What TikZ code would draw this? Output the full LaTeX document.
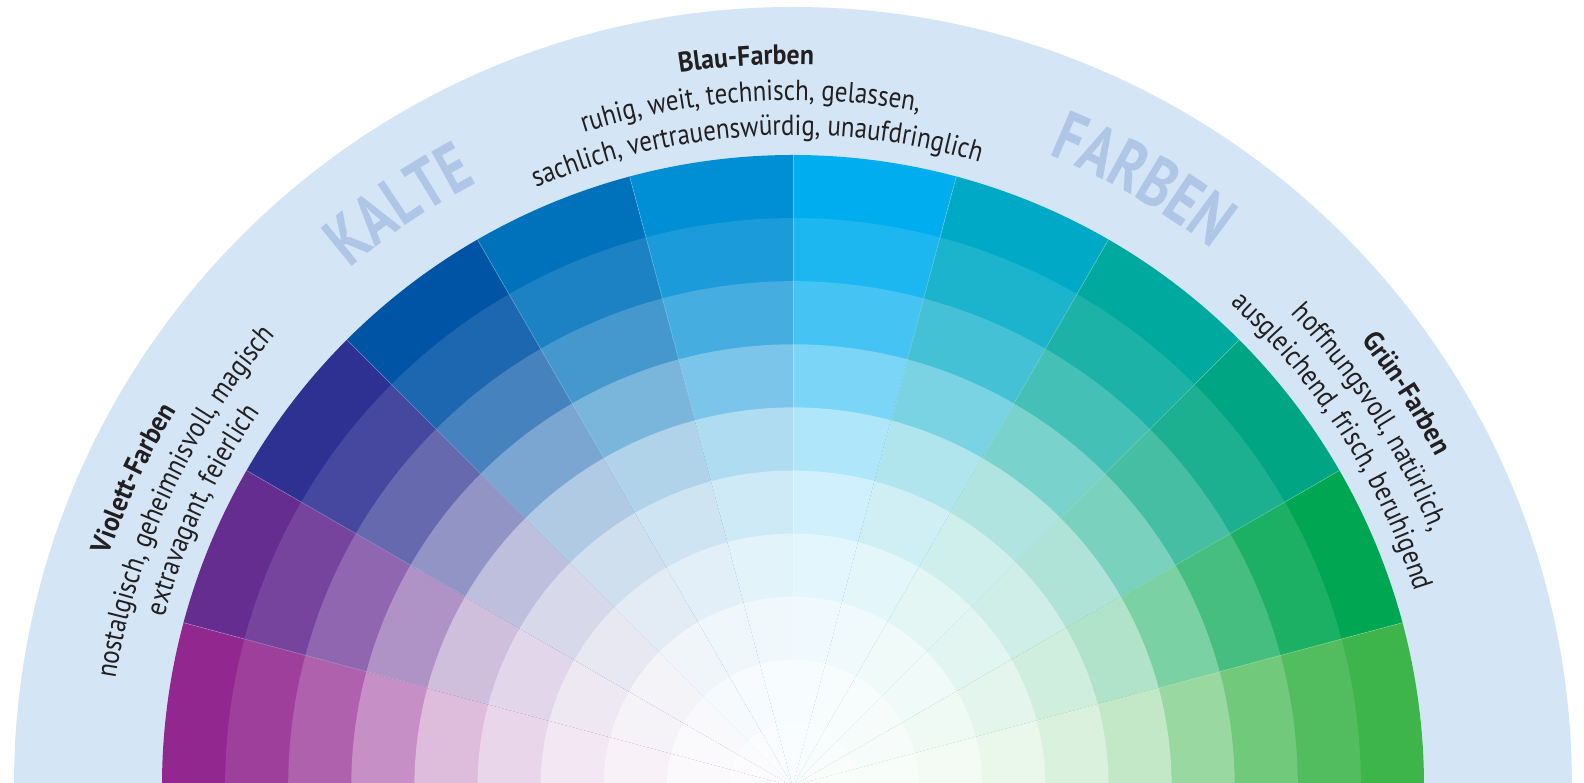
\documentclass[tikz,border=0pt]{standalone}
\usepackage{fontspec}
\setmainfont{PT Sans}
\newfontfamily\bodyfont[FakeStretch=0.86]{PT Sans}
\newfontfamily\titlefont[FakeStretch=0.92]{PT Sans}
\newfontfamily\bigfont[FakeStretch=0.78]{PT Sans}
\usetikzlibrary{decorations.text}
\definecolor{bgc}{HTML}{D4E6F6}
\definecolor{txt}{HTML}{231F20}
\definecolor{bigc}{HTML}{AFC6E6}
\definecolor{s1}{HTML}{91278F}
\definecolor{s2}{HTML}{662D91}
\definecolor{s3}{HTML}{2E3192}
\definecolor{s4}{HTML}{0054A6}
\definecolor{s5}{HTML}{0072BC}
\definecolor{s6}{HTML}{008FD5}
\definecolor{s7}{HTML}{00AEEF}
\definecolor{s8}{HTML}{00AAC7}
\definecolor{s9}{HTML}{00A99D}
\definecolor{s10}{HTML}{00A683}
\definecolor{s11}{HTML}{00A651}
\definecolor{s12}{HTML}{3DB54A}
\newcommand\bodyfmt{\color{txt}\bodyfont\fontsize{29}{34}\selectfont}
\newcommand\titlefmt{\color{txt}\titlefont\bfseries\fontsize{28}{32}\selectfont}
\newcommand\bigfmt{\color{bigc}\bigfont\bfseries\fontsize{70}{80}\selectfont}
\newcommand\arctext[5]{\path[decorate,decoration={text along path,text align=center,text={|#4|#5}}] ({#2+#3}:#1) arc[start angle={#2+#3}, end angle={#2-#3}, radius=#1];}
\begin{document}
\begin{tikzpicture}[x=1pt,y=1pt]
\clip (-793,3) rectangle (791,786);
\fill[white] (-793,3) rectangle (791,786);
\fill[bgc] (0,0) circle[radius=779];
% colour wheel
\foreach \c [count=\i from 0] in {s1,s2,s3,s4,s5,s6,s7,s8,s9,s10,s11,s12} {
  \pgfmathsetmacro\aA{180-15*\i}
  \pgfmathsetmacro\aB{165-15*\i}
  \foreach \t [count=\k from 0] in {100,89,73,52,31,19,11,6,3,2} {
    \pgfmathsetmacro\ro{631-63.1*\k}
    \fill[\c!\t!white] (0,0) -- (\aA:\ro) arc[start angle=\aA, end angle=\aB, radius=\ro] -- cycle;
  }
}
\foreach \a in {15,30,...,165} \draw[white, opacity=0.3, line width=0.6pt] (0,0) -- (\a:631);
% big words
\arctext{681}{124.1}{30}{\bigfmt}{KALTE}
\arctext{681}{60}{30}{\bigfmt}{FARBEN}
% Blau
\arctext{722}{93.7}{40}{\titlefmt}{Blau-Farben}
\arctext{686}{93.6}{40}{\bodyfmt}{ruhig, weit, technisch, gelassen,}
\arctext{651}{93.3}{40}{\bodyfmt}{sachlich, vertrauenswürdig, unaufdringlich}
% Violett
\arctext{722}{155}{40}{\titlefmt}{Violett-Farben}
\arctext{686}{155}{40}{\bodyfmt}{nostalgisch, geheimnisvoll, magisch}
\arctext{651}{155}{40}{\bodyfmt}{extravagant, feierlich}
% Gruen
\arctext{722}{32.6}{40}{\titlefmt}{Grün-Farben}
\arctext{686}{32.6}{40}{\bodyfmt}{hoffnungsvoll, natürlich,}
\arctext{651}{32.6}{40}{\bodyfmt}{ausgleichend, frisch, beruhigend}
\end{tikzpicture}
\end{document}
